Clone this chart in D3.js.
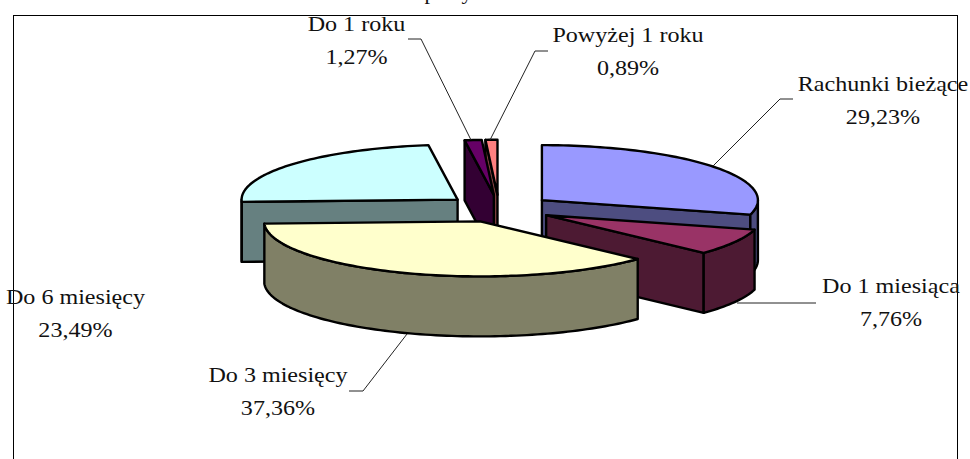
<!DOCTYPE html>
<html>
<head>
<meta charset="utf-8">
<script src="https://cdnjs.cloudflare.com/ajax/libs/d3/7.8.5/d3.min.js"></script>
<style>
html, body { margin: 0; padding: 0; background: #fff; overflow: hidden; }
text { font-family: "Liberation Serif", serif; fill: #111; }
</style>
</head>
<body>
<div id="chart"></div>
<script>
var categories = ["Rachunki bieżące", "Do 1 miesiąca", "Do 3 miesięcy", "Do 6 miesięcy", "Do 1 roku", "Powyżej 1 roku"];
var values = [29.23, 7.76, 37.36, 23.49, 1.27, 0.89];
var topColors = ["#9999ff", "#993366", "#ffffcc", "#ccffff", "#660066", "#ff8080"];
var sideColors = ["#4d4d80", "#4d1a33", "#808066", "#668080", "#330033", "#804040"];
var drawOrder = [3, 5, 4, 0, 1, 2];
// only the descenders of the title are left in the picture
var titleLetters = ["p", "y"];
var titleLetterX = [430, 467];

var width = 970, height = 459;
var cx = 499, cy = 208.5, rx = 216, ry = 55, depth = 60, explode = 0.25;

var svg = d3.select("#chart").append("svg")
	.attr("width", width)
	.attr("height", height);

titleLetters.forEach(function (c, i) {
	svg.append("text")
		.attr("x", titleLetterX[i]).attr("y", -1)
		.attr("text-anchor", "middle").attr("font-size", 22)
		.text(c);
});

// frame, the bottom runs off the page
svg.append("rect")
	.attr("x", 13.5).attr("y", 15.5)
	.attr("width", 944).attr("height", 470)
	.attr("fill", "none").attr("stroke", "#000").attr("stroke-width", 1);

var slices = d3.pie().sort(null)(values);

var line = d3.line();

function pointAt(s, a, drop) {
	var mid = (s.startAngle + s.endAngle) / 2;
	var ox = cx + explode * rx * Math.sin(mid);
	var oy = cy - explode * ry * Math.cos(mid);
	if (a === null) return [ox, oy + drop];
	return [ox + rx * Math.sin(a), oy - ry * Math.cos(a) + drop];
}

function arcPoints(s, a0, a1, drop) {
	var n = Math.max(2, Math.ceil((a1 - a0) * 40));
	return d3.range(n + 1).map(function (i) {
		return pointAt(s, a0 + (a1 - a0) * i / n, drop);
	});
}

function wall(g, s, a, color) {
	g.append("path")
		.attr("d", line([pointAt(s, null, 0), pointAt(s, a, 0), pointAt(s, a, depth), pointAt(s, null, depth)]) + "Z")
		.attr("fill", color);
}

drawOrder.forEach(function (i) {
	var s = slices[i];
	var g = svg.append("g")
		.attr("stroke", "#000").attr("stroke-width", 2.4).attr("stroke-linejoin", "round");

	// only the walls turned towards the viewer
	if (Math.sin(s.startAngle) < -0.001) wall(g, s, s.startAngle, sideColors[i]);
	if (Math.sin(s.endAngle) > 0.001) wall(g, s, s.endAngle, sideColors[i]);

	var a0 = Math.max(s.startAngle, Math.PI / 2);
	var a1 = Math.min(s.endAngle, Math.PI * 1.5);
	if (a1 > a0) {
		var pts = arcPoints(s, a0, a1, 0).concat(arcPoints(s, a0, a1, depth).reverse());
		g.append("path").attr("d", line(pts) + "Z").attr("fill", sideColors[i]);
	}

	var topPts = [pointAt(s, null, 0)].concat(arcPoints(s, s.startAngle, s.endAngle, 0));
	g.append("path").attr("d", line(topPts) + "Z").attr("fill", topColors[i]);
});

// leader lines
var leaders = [
	[[793, 99], [780, 99], [713, 166]],
	[[816, 303], [737, 303]],
	[[349, 391], [363, 391], [407, 334]],
	[[408, 39], [421, 39], [471, 140]],
	[[548, 51], [535, 51], [490, 140]]
];
leaders.forEach(function (d) {
	svg.append("path")
		.attr("d", line(d))
		.attr("fill", "none").attr("stroke", "#222").attr("stroke-width", 1);
});

// label anchors
var labelPos = [[883, 91], [891, 293], [278, 382], [75.5, 304], [356.5, 31], [628, 42]];
var fontSize = 21.5;
var stretch = 1.12;
var fmt = function (v) { return d3.format(".2f")(v).replace(".", ",") + "%"; };

function stretched(sel) {
	// Palatino in the original is wider than what we have here
	sel.attr("textLength", sel.node().getComputedTextLength() * stretch)
		.attr("lengthAdjust", "spacingAndGlyphs");
}

categories.forEach(function (name, i) {
	var a = svg.append("text")
		.attr("x", labelPos[i][0]).attr("y", labelPos[i][1])
		.attr("text-anchor", "middle").attr("font-size", fontSize)
		.text(name);
	stretched(a);
	var b = svg.append("text")
		.attr("x", labelPos[i][0]).attr("y", labelPos[i][1] + 33)
		.attr("text-anchor", "middle").attr("font-size", fontSize)
		.text(fmt(values[i]));
	stretched(b);
});
</script>
</body>
</html>
